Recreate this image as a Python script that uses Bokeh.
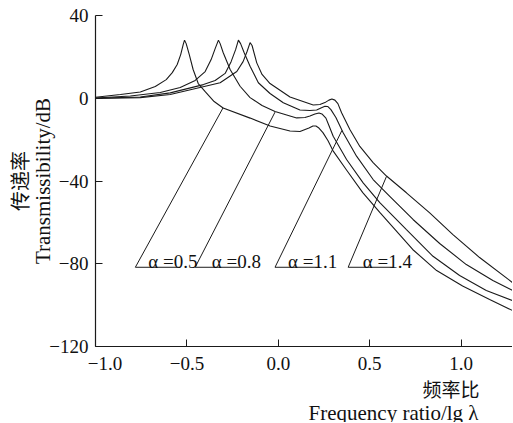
from bokeh.plotting import figure
from bokeh.models import Range1d, FixedTicker, ColumnDataSource, Title
from bokeh.core.properties import value
from bokeh.embed import file_html
from bokeh.resources import INLINE

# ---- data (lg lambda, transmissibility dB) ----
a05_x = [-1.0, -0.8635, -0.7549, -0.673, -0.613, -0.580, -0.553, -0.534, -0.520, -0.513, -0.504, -0.487,
         -0.466, -0.438, -0.400, -0.351, -0.302, -0.154, -0.045, 0.064, 0.1184, 0.1676, 0.1894, 0.2058,
         0.2222, 0.2440, 0.2713, 0.2986, 0.375, 0.462, 0.555, 0.735, 0.866, 1.008, 1.156, 1.281]
a05_y = [0.5, 1.8, 3.0, 5.7, 9.0, 12.4, 16.3, 21.1, 26.0, 28.1, 26.4, 21.1,
         13.9, 7.1, 3.2, -1.6, -4.7, -9.6, -13.4, -15.8, -16.1, -14.4, -13.4, -13.4,
         -14.4, -16.6, -20.4, -25.3, -34.9, -45.6, -55.2, -73.1, -83.3, -90.8, -97.3, -102.6]

a08_x = [-1.0, -0.8095, -0.6457, -0.5366, -0.4547, -0.4001, -0.3674, -0.3455, -0.3275, -0.3182, -0.3018,
         -0.2636, -0.2091, -0.1545, -0.089, -0.018, 0.1004, 0.1457, 0.1730, 0.2003, 0.2222, 0.2385,
         0.2604, 0.2768, 0.3002, 0.3734, 0.464, 0.5551, 0.7009, 0.8461, 0.9918, 1.1376, 1.281]
a08_y = [0.1, 1.1, 2.8, 5.2, 8.6, 12.9, 18.7, 24.0, 28.1, 26.4, 22.1,
         13.9, 5.8, 0.3, -3.5, -6.4, -9.5, -9.3, -8.6, -7.6, -7.1, -7.6,
         -9.6, -13.2, -18.4, -29.6, -40.9, -50.5, -63.5, -76.4, -85.7, -92.9, -97.8]

a11_x = [-1.0, -0.755, -0.5912, -0.4094, -0.3455, -0.2909, -0.2582, -0.2336, -0.2183, -0.2063, -0.1872,
         -0.1545, -0.1092, -0.0453, 0.0273, 0.1184, 0.1730, 0.2096, 0.2331, 0.2549, 0.2713, 0.2877,
         0.3150, 0.3548, 0.428, 0.5186, 0.6097, 0.7369, 0.8827, 1.0284, 1.1736, 1.281]
a11_y = [0.0, 0.6, 2.6, 6.6, 8.6, 12.0, 17.7, 23.5, 28.1, 26.4, 22.1,
         15.5, 7.5, 2.3, -2.2, -5.7, -5.9, -5.7, -4.7, -3.9, -4.0, -5.5,
         -9.3, -16.7, -28.0, -39.3, -47.4, -58.6, -70.2, -80.4, -88.1, -92.9]

a14_x = [-1.0, -0.755, -0.5912, -0.3182, -0.2271, -0.1927, -0.1709, -0.1545, -0.1436, -0.1179, -0.089,
         -0.0453, 0.0639, 0.191, 0.2276, 0.2549, 0.2767, 0.2931, 0.3095, 0.3259, 0.3461, 0.3914,
         0.446, 0.5186, 0.5917, 0.7009, 0.8281, 0.9552, 1.101, 1.281]
a14_y = [-0.1, 0.3, 1.8, 7.5, 12.9, 17.7, 22.6, 26.9, 25.5, 17.1, 11.5,
         7.1, 0.6, -3.3, -3.0, -2.1, -0.9, -0.4, -0.9, -2.6, -7.0, -15.1,
         -23.3, -31.1, -37.6, -45.7, -55.4, -65.9, -77.0, -89.1]

alpha_labels = ["α =0.5", "α =0.8", "α =1.1", "α =1.4"]
x_ticks = [-1.0, -0.5, 0.0, 0.5, 1.0]
x_tick_labels = ["\u2007\u2007−1.0", "−0.5", "0.0", "0.5", "1.0"]
y_ticks = [40, 0, -40, -80, -120]
y_tick_labels = ["40", "0", "−40", "−80", "−120"]

# ---- annotation geometry (data coordinates) ----
ann_tip_x = [-0.302, -0.018, 0.3477, 0.5917]
ann_tip_y = [-4.6, -6.7, -15.6, -37.8]
ann_base_x = [-0.782, -0.4547, -0.018, 0.3821]
ann_end_x = [-0.537, -0.209, 0.2276, 0.6277]
ann_base_y = -81.7
ann_text_x = [-0.711, -0.3635, 0.053, 0.4623]
ann_text_y = -78.9

SERIF = "Liberation Serif"
CJK = "Noto Sans CJK SC"
SERIF_CJK = "Liberation Serif, Noto Sans CJK SC"
INK = "#1a1a1a"

p = figure(width=512, height=422, output_backend="svg", toolbar_location=None,
           x_range=Range1d(-1.0, 1.281), y_range=Range1d(-120, 40),
           min_border_left=94, min_border_right=0, min_border_top=15, min_border_bottom=76)
p.outline_line_color = None
p.grid.visible = False
p.background_fill_color = "white"

for ax in (p.xaxis[0], p.yaxis[0]):
    ax.axis_line_color = INK
    ax.axis_line_width = 1.2
    ax.major_tick_line_color = INK
    ax.major_tick_in = 7
    ax.major_tick_out = 0
    ax.minor_tick_line_color = None
    ax.major_label_text_font = SERIF
    ax.major_label_text_font_size = "19px"
    ax.major_label_text_color = "#111"

p.xaxis[0].ticker = FixedTicker(ticks=x_ticks)
p.xaxis[0].major_label_overrides = {t: l for t, l in zip(x_ticks, x_tick_labels)}
p.xaxis[0].major_label_standoff = 6
p.yaxis[0].ticker = FixedTicker(ticks=y_ticks)
p.yaxis[0].major_label_overrides = {t: l for t, l in zip(y_ticks, y_tick_labels)}
p.yaxis[0].major_label_standoff = 7

for xs, ys in ((a05_x, a05_y), (a08_x, a08_y), (a11_x, a11_y), (a14_x, a14_y)):
    p.line(xs, ys, line_color=INK, line_width=1.1)

ann_xs = [[tx, bx, ex] for tx, bx, ex in zip(ann_tip_x, ann_base_x, ann_end_x)]
ann_ys = [[ty, ann_base_y, ann_base_y] for ty in ann_tip_y]
p.multi_line(ann_xs, ann_ys, line_color=INK, line_width=1.0)

src = ColumnDataSource(dict(x=ann_text_x, y=[ann_text_y] * 4, t=alpha_labels))
p.text(x="x", y="y", text="t", source=src, text_font=value(SERIF), text_font_size="19px",
       text_color="#111", text_align="left", text_baseline="alphabetic")

def make_title(text, font, size, align="center", offset=0, standoff=-6):
    return Title(text=text, text_font=font, text_font_size=size, text_font_style="normal",
                 text_color="#111", align=align, offset=offset, standoff=standoff)

p.add_layout(make_title("Transmissibility/dB", SERIF, "21px", standoff=-16), "left")
p.add_layout(make_title("传递率", CJK, "20px", standoff=5), "left")
p.add_layout(make_title("频率比", SERIF_CJK, "19px", align="right", offset=33, standoff=2), "below")
p.add_layout(make_title("Frequency ratio/lg λ", SERIF, "21px", align="right", offset=34, standoff=-6), "below")

open("out.html", "w").write(file_html(p, INLINE))
